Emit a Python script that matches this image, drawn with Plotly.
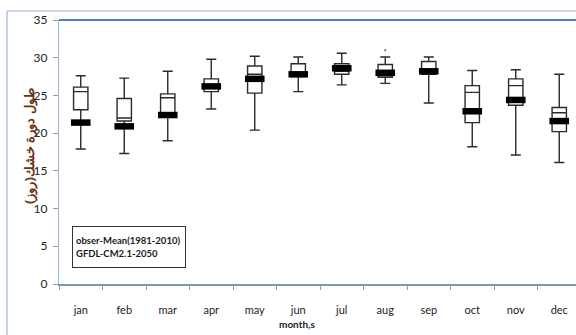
import plotly.graph_objects as go

months = ["jan", "feb", "mar", "apr", "may", "jun", "jul", "aug", "sep", "oct", "nov", "dec"]
lower = [17.9, 17.3, 19.0, 23.2, 20.4, 25.5, 26.4, 26.6, 24.0, 18.2, 17.1, 16.1]
q1 = [23.1, 21.6, 22.7, 25.5, 25.3, 27.5, 27.8, 27.4, 27.8, 21.4, 23.7, 20.2]
median = [25.5, 22.0, 24.7, 26.4, 27.8, 28.0, 28.2, 27.6, 28.0, 25.4, 26.3, 22.7]
q3 = [26.1, 24.6, 25.2, 27.2, 28.9, 29.2, 29.2, 29.1, 29.5, 26.3, 27.2, 23.4]
upper = [27.6, 27.3, 28.2, 29.8, 30.2, 30.1, 30.6, 30.1, 30.1, 28.3, 28.4, 27.8]
obs_mean = [21.4, 20.9, 22.4, 26.2, 27.2, 27.8, 28.6, 28.0, 28.2, 22.9, 24.4, 21.6]
outlier_month = ["aug"]
outlier_value = [31.0]

W, H = 576, 335
L, R, T, B = 59, 0, 20, 51
pw, ph = W - L - R, H - T - B

def px_x(px):
    return (px - L) / pw

def px_y(py):
    return (H - B - py) / ph

fig = go.Figure()
fig.add_trace(go.Box(
    x=months, q1=q1, median=median, q3=q3, lowerfence=lower, upperfence=upper,
    fillcolor="white", line=dict(color="#2b2b2b", width=1.4),
    width=0.33, whiskerwidth=0.7, boxpoints=False, showlegend=False,
))
fig.add_trace(go.Scatter(
    x=months, y=obs_mean, mode="markers", showlegend=False,
    marker=dict(symbol="line-ew", size=14, color="black",
                line=dict(color="black", width=6.5)),
))
fig.add_trace(go.Scatter(
    x=outlier_month, y=outlier_value, mode="markers", showlegend=False,
    marker=dict(symbol="circle", size=2, color="#555"),
))

fig.update_layout(
    width=W, height=H,
    margin=dict(l=L, r=R, t=T, b=B),
    paper_bgcolor="white", plot_bgcolor="white",
    font=dict(family="Lato", color="#222"),
    xaxis=dict(
        type="category", range=[-0.5, 11.385],
        showline=True, linecolor="#8096b8", linewidth=2,
        ticks="outside", tickson="boundaries", ticklen=4, tickcolor="#999",
        tickfont=dict(size=11, color="#222"), ticklabelstandoff=15,
        showgrid=False, zeroline=False,
    ),
    yaxis=dict(
        range=[0, 35], tickvals=[0, 5, 10, 15, 20, 25, 30, 35],
        showline=True, linecolor="#9fb3d4", linewidth=1.2,
        ticks="outside", ticklen=5, tickcolor="#999",
        tickfont=dict(size=12, color="#222"), ticklabelstandoff=3,
        showgrid=False, zeroline=False,
    ),
    shapes=[
        dict(type="line", xref="paper", yref="paper", x0=0, x1=1, y0=1, y1=1,
             line=dict(color="#4f7fc0", width=2)),
        dict(type="line", xref="paper", yref="paper", x0=px_x(7), x1=1.0,
             y0=px_y(11), y1=px_y(11), line=dict(color="#9ab4dc", width=1.2)),
        dict(type="line", xref="paper", yref="paper", x0=px_x(7), x1=px_x(7),
             y0=px_y(11), y1=px_y(336), line=dict(color="#9ab4dc", width=1.2)),
    ],
    annotations=[
        dict(xref="paper", yref="paper", x=px_x(72), y=px_y(226),
             xanchor="left", yanchor="top", showarrow=False, align="left",
             text="<b>obser-Mean(1981-2010)</b><br><b>GFDL-CM2.1-2050</b>",
             font=dict(size=9.5, color="#1a1a1a", family="Lato"),
             bordercolor="#333", borderwidth=1, borderpad=3,
             width=106, height=34, valign="middle"),
        dict(xref="paper", yref="paper", x=px_x(297), y=px_y(332),
             showarrow=False, text="<b>month,s</b>",
             font=dict(size=10, color="#222", family="Lato")),
        dict(xref="paper", yref="paper", x=px_x(18), y=px_y(146),
             showarrow=False, textangle=-90, text="<b>طول دورة خشك(روز)</b>",
             font=dict(size=13, color="#6b3414", family="Noto Sans")),
    ],
)

fig.write_html("out.html", config={"displayModeBar": False},
               post_script="document.body.style.margin='0';document.body.style.overflow='hidden';")
